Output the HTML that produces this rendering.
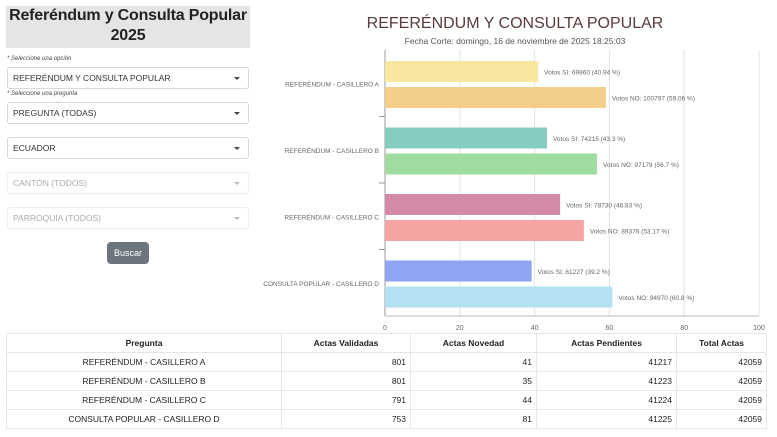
<!DOCTYPE html>
<html><head><meta charset="utf-8"><style>
body{margin:0;width:777px;height:437px;background:#fff;font-family:"Liberation Sans",sans-serif;position:relative;overflow:hidden}
.abs{position:absolute}
.title{left:6px;top:6px;width:244px;height:42px;background:#e5e5e5;font-weight:bold;font-size:16px;line-height:20px;text-align:center;color:#222;white-space:nowrap;letter-spacing:-0.2px}
.hint{left:7px;font-size:6px;font-style:italic;color:#444}
.sel{left:7px;border:1px solid #d8d8d8;border-radius:3px;font-size:8.5px;padding-left:5px;box-sizing:border-box;width:242px;height:22px;line-height:21px;color:#333}
.sel.dis{color:#aaa;border-color:#eee}
.sel::after{content:"";position:absolute;right:8px;top:9px;border:3px solid transparent;border-top:3px solid #444}
.sel.dis::after{border-top-color:#bbb}
.btn{left:107px;top:242px;width:42px;height:22px;background:#6c757d;color:#fff;border-radius:4px;font-size:9px;line-height:22px;text-align:center}
table{position:absolute;left:6px;top:333px;width:761px;border-collapse:collapse;font-size:8.5px;color:#222}
td,th{border:1px solid #e6e6e6;height:18px;padding:0 4px}
th{font-weight:bold}
td.n{text-align:right}
td.c{text-align:center}
</style></head><body>
<div class="abs title">Referéndum y Consulta Popular<br>2025</div>
<div class="abs hint" style="top:56px">* Seleccione una opción</div>
<div class="abs sel" style="top:67px">REFERÉNDUM Y CONSULTA POPULAR</div>
<div class="abs hint" style="top:91px">* Seleccione una pregunta</div>
<div class="abs sel" style="top:102px">PREGUNTA (TODAS)</div>
<div class="abs sel" style="top:137px">ECUADOR</div>
<div class="abs sel dis" style="top:172px">CANTÓN (TODOS)</div>
<div class="abs sel dis" style="top:207px">PARROQUIA (TODOS)</div>
<div class="abs btn">Buscar</div>

<svg class="abs" style="left:0;top:0" width="777" height="437" id="chart">
<text x="515" y="28" text-anchor="middle" font-size="16" fill="#5a3a3a" font-family="Liberation Sans">REFERÉNDUM Y CONSULTA POPULAR</text>
<text x="515" y="44" text-anchor="middle" font-size="8.5" fill="#555">Fecha Corte: domingo, 16 de noviembre de 2025 18:25:03</text>
</svg>

<table>
<tr><th style="width:266px">Pregunta</th><th style="width:120px">Actas Validadas</th><th style="width:117px">Actas Novedad</th><th style="width:131px">Actas Pendientes</th><th>Total Actas</th></tr>
<tr><td class="c">REFERÉNDUM - CASILLERO A</td><td class="n">801</td><td class="n">41</td><td class="n">41217</td><td class="n">42059</td></tr>
<tr><td class="c">REFERÉNDUM - CASILLERO B</td><td class="n">801</td><td class="n">35</td><td class="n">41223</td><td class="n">42059</td></tr>
<tr><td class="c">REFERÉNDUM - CASILLERO C</td><td class="n">791</td><td class="n">44</td><td class="n">41224</td><td class="n">42059</td></tr>
<tr><td class="c">CONSULTA POPULAR - CASILLERO D</td><td class="n">753</td><td class="n">81</td><td class="n">41225</td><td class="n">42059</td></tr>
</table>
<script>
const categories=["REFERÉNDUM - CASILLERO A","REFERÉNDUM - CASILLERO B","REFERÉNDUM - CASILLERO C","CONSULTA POPULAR - CASILLERO D"];
const votosSi=[69860,74215,78730,61227];
const pctSi=[40.94,43.3,46.83,39.2];
const votosNo=[100797,97179,89376,94970];
const pctNo=[59.06,56.7,53.17,60.8];
const ticks=[0,20,40,60,80,100];
const colorsSi=["#f7e7a0","#86cbc0","#d48aa6","#8fa5f2"];
const colorsNo=["#f4cf8a","#a0dca0","#f5a3a3","#b4e1f2"];
const svg=document.getElementById('chart');
const NS="http://www.w3.org/2000/svg";
const X0=385,X1=759,Y0=50,Y1=316;
const xs=v=>X0+(v-ticks[0])/(ticks[ticks.length-1]-ticks[0])*(X1-X0);
const gh=(Y1-Y0)/categories.length;
function mk(t,a){const e=document.createElementNS(NS,t);for(const k in a)e.setAttribute(k,a[k]);svg.appendChild(e);return e;}
ticks.forEach((t,i)=>{
  const g=mk('line',{x1:xs(t),x2:xs(t),y1:Y0,y2:Y1,stroke:i==0?'#999':'#e3e3e3','stroke-width':1});
  
  
  const l=mk('text',{x:xs(t),y:Y1+14,'text-anchor':'middle','font-size':7,fill:'#666'});
  l.textContent=t;
  
  
});
mk('line',{x1:X0,x2:X1,y1:Y1,y2:Y1,stroke:'#bbb'});
categories.forEach((c,i)=>{
  const gy=Y0+i*gh;
  if(i>0){mk('line',{x1:X0-6,x2:X0,y1:gy,y2:gy,stroke:'#999'});}
  const lab=mk('text',{x:X0-6,y:gy+gh/2+3,'text-anchor':'end','font-size':6.5,fill:'#666'});
  lab.textContent=c;
  
  
  const y1=gy+11,y2=gy+37,h=21;
  const b1=mk('rect',{x:X0,y:y1,width:xs(pctSi[i])-X0,height:h,fill:colorsSi[i]});
  
  
  const b2=mk('rect',{x:X0,y:y2,width:xs(pctNo[i])-X0,height:h,fill:colorsNo[i]});
  
  
  const t1=mk('text',{x:xs(pctSi[i])+6,y:y1+h/2+3,'font-size':6.5,fill:'#666'});
  t1.textContent='Votos SI: '+votosSi[i]+' ('+pctSi[i]+' %)';
  
  
  const t2=mk('text',{x:xs(pctNo[i])+6,y:y2+h/2+3,'font-size':6.5,fill:'#666'});
  t2.textContent='Votos NO: '+votosNo[i]+' ('+pctNo[i]+' %)';
  
  
});
</script>
</body></html>
